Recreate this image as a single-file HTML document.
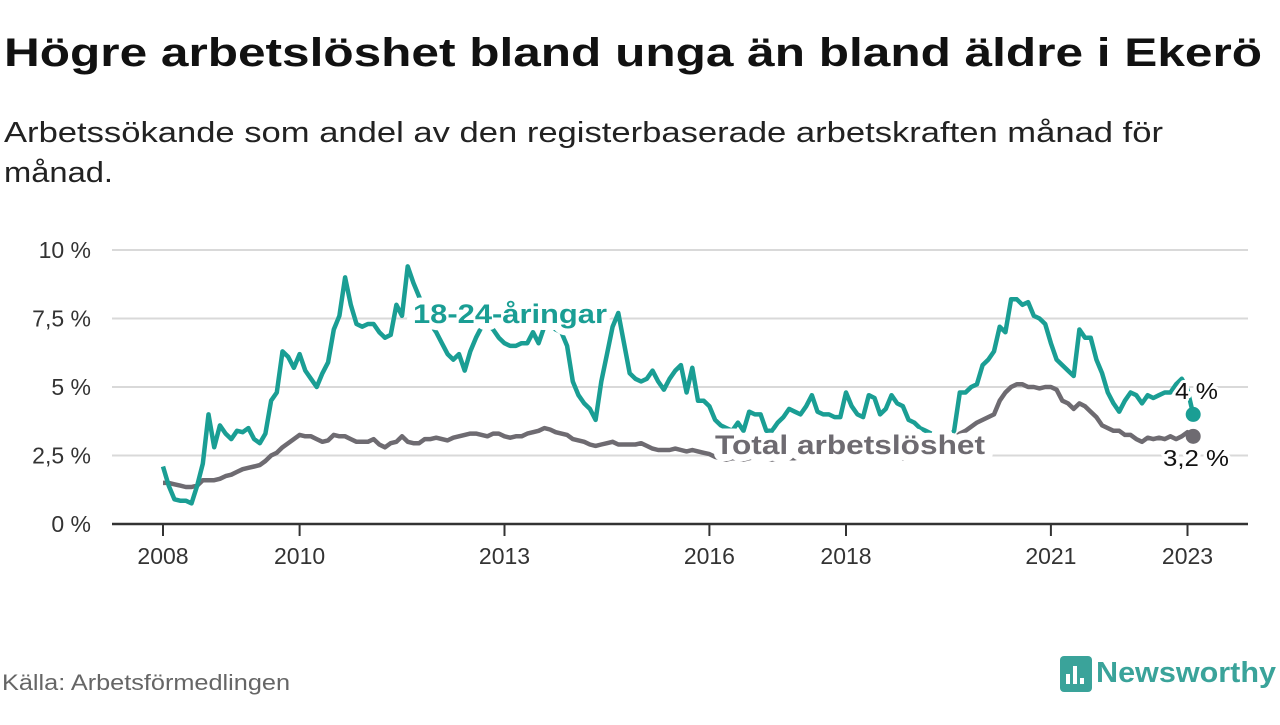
<!DOCTYPE html>
<html><head><meta charset="utf-8"><style>
body{margin:0;background:#fff;width:1280px;height:720px;overflow:hidden;font-family:"Liberation Sans",sans-serif;}
</style></head><body>
<svg width="1280" height="720" xmlns="http://www.w3.org/2000/svg">
<text x="4" y="66" font-size="40" font-weight="bold" fill="#111" textLength="1258" lengthAdjust="spacingAndGlyphs">Högre arbetslöshet bland unga än bland äldre i Ekerö</text>
<text x="4" y="142" font-size="29" fill="#222" textLength="1159" lengthAdjust="spacingAndGlyphs">Arbetssökande som andel av den registerbaserade arbetskraften månad för</text>
<text x="4" y="182" font-size="29" fill="#222" textLength="109" lengthAdjust="spacingAndGlyphs">månad.</text>
<g id="grid"></g><g id="axes"></g><g id="series"></g><g id="labels"></g>
<text x="2" y="690" font-size="22" fill="#666" textLength="288" lengthAdjust="spacingAndGlyphs">Källa: Arbetsförmedlingen</text>
<g>
<rect x="1060" y="656" width="32" height="36" rx="4" fill="#3aa39a"/>
<rect x="1066" y="674" width="4" height="10" fill="#fff"/><rect x="1073" y="666" width="4" height="18" fill="#fff"/><rect x="1080" y="678" width="4" height="6" fill="#fff"/>
<text x="1096" y="682" font-size="29" font-weight="bold" fill="#3aa39a" textLength="180" lengthAdjust="spacingAndGlyphs">Newsworthy</text>
</g>
</svg>
<script>
const yTicks=[0,2.5,5,7.5,10];
const yTickLabels=["0 %","2,5 %","5 %","7,5 %","10 %"];
const xTicks=[2008,2010,2013,2016,2018,2021,2023];
const startYear=2008;
const youth=[2.1,1.4,0.9,0.85,0.85,0.75,1.4,2.2,4.0,2.8,3.6,3.3,3.1,3.4,3.35,3.5,3.1,2.95,3.3,4.5,4.8,6.3,6.1,5.7,6.2,5.6,5.3,5.0,5.5,5.9,7.1,7.6,9.0,8.0,7.3,7.2,7.3,7.3,7.0,6.8,6.9,8.0,7.6,9.4,8.8,8.3,7.8,7.3,7.0,6.6,6.2,6.0,6.2,5.6,6.3,6.8,7.2,7.3,7.1,6.8,6.6,6.5,6.5,6.6,6.6,7.0,6.6,7.2,7.3,7.1,7.0,6.5,5.2,4.7,4.4,4.2,3.8,5.2,6.2,7.2,7.7,6.6,5.5,5.3,5.2,5.3,5.6,5.2,4.9,5.3,5.6,5.8,4.8,5.7,4.5,4.5,4.3,3.8,3.6,3.5,3.4,3.7,3.4,4.1,4.0,4.0,3.4,3.4,3.7,3.9,4.2,4.1,4.0,4.3,4.7,4.1,4.0,4.0,3.9,3.9,4.8,4.3,4.0,3.9,4.7,4.6,4.0,4.2,4.7,4.4,4.3,3.8,3.7,3.5,3.4,3.3,3.2,3.2,3.1,3.4,4.8,4.8,5.0,5.1,5.8,6.0,6.3,7.2,7.0,8.2,8.2,8.0,8.1,7.6,7.5,7.3,6.6,6.0,5.8,5.6,5.4,7.1,6.8,6.8,6.0,5.5,4.8,4.4,4.1,4.5,4.8,4.7,4.4,4.7,4.6,4.7,4.8,4.8,5.1,5.3,4.9,4.0];
const total=[1.5,1.5,1.45,1.4,1.35,1.35,1.4,1.6,1.6,1.6,1.65,1.75,1.8,1.9,2.0,2.05,2.1,2.15,2.3,2.5,2.6,2.8,2.95,3.1,3.25,3.2,3.2,3.1,3.0,3.05,3.25,3.2,3.2,3.1,3.0,3.0,3.0,3.1,2.9,2.8,2.95,3.0,3.2,3.0,2.95,2.95,3.1,3.1,3.15,3.1,3.05,3.15,3.2,3.25,3.3,3.3,3.25,3.2,3.3,3.3,3.2,3.15,3.2,3.2,3.3,3.35,3.4,3.5,3.45,3.35,3.3,3.25,3.1,3.05,3.0,2.9,2.85,2.9,2.95,3.0,2.9,2.9,2.9,2.9,2.95,2.85,2.75,2.7,2.7,2.7,2.75,2.7,2.65,2.7,2.65,2.6,2.55,2.45,2.4,2.35,2.4,2.4,2.35,2.4,2.45,2.4,2.4,2.35,2.4,2.45,2.4,2.4,2.45,2.45,2.5,2.45,2.45,2.4,2.4,2.45,2.5,2.45,2.45,2.5,2.5,2.45,2.45,2.5,2.45,2.45,2.4,2.4,2.5,2.5,2.55,2.6,2.7,2.8,2.9,3.1,3.3,3.4,3.55,3.7,3.8,3.9,4.0,4.5,4.8,5.0,5.1,5.1,5.0,5.0,4.95,5.0,5.0,4.9,4.5,4.4,4.2,4.4,4.3,4.1,3.9,3.6,3.5,3.4,3.4,3.25,3.25,3.1,3.0,3.15,3.1,3.15,3.1,3.2,3.1,3.2,3.35,3.2];
const NS="http://www.w3.org/2000/svg";
const xs=yr=>163+(yr-startYear)*68.3;
const xm=i=>xs(startYear+i/12);
const ys=v=>524-v*27.4;
function mk(tag,attrs,parent){const e=document.createElementNS(NS,tag);for(const k in attrs)e.setAttribute(k,attrs[k]);document.getElementById(parent).appendChild(e);return e;}
yTicks.forEach((t,i)=>{
 if(t>0){const g=mk('line',{x1:112,x2:1248,y1:ys(t),y2:ys(t),stroke:'#d9d9d9','stroke-width':2},'grid');
 
 }
 const l=mk('text',{x:91,y:ys(t)+8,'font-size':23,'text-anchor':'end',fill:'#333'},'grid');
 l.textContent=yTickLabels[i];
 
 
});
const ax=mk('line',{x1:112,x2:1248,y1:524,y2:524,stroke:'#333','stroke-width':2.5},'axes');


xTicks.forEach(y=>{
 const t=mk('line',{x1:xs(y),x2:xs(y),y1:524,y2:536,stroke:'#333','stroke-width':2},'axes');
 
 
 const l=mk('text',{x:xs(y),y:564,'font-size':23,'text-anchor':'middle',fill:'#333'},'axes');
 l.textContent=y;
 
 
});
function line(arr,col,name){
 const d=arr.map((v,i)=>(i?'L':'M')+xm(i).toFixed(1)+','+ys(v).toFixed(1)).join('');
 const p=mk('path',{d:d,fill:'none',stroke:col,'stroke-width':4.5,'stroke-linejoin':'round'},'series');
 
 
 const n=arr.length-1;
 const c=mk('circle',{cx:xm(n),cy:ys(arr[n]),r:7.5,fill:col},'series');
 
 
}
line(total,'#6e6b71','total-line');
line(youth,'#1a9e94','youth-line');
function lab(txt,x,y,size,col,bold,w,name){
 const t=mk('text',{x:x,y:y,'font-size':size,fill:col,'font-weight':bold?'bold':'normal',stroke:'#fff','stroke-width':bold?14:6,'paint-order':'stroke','stroke-linejoin':'round',textLength:w,lengthAdjust:'spacingAndGlyphs'},'labels');
 t.textContent=txt;
 
 
}
lab('18-24-åringar',413,323,27,'#1a9e94',true,194,'youth-series-label');
lab('Total arbetslöshet',715,454,27,'#6e6b71',true,270,'total-series-label');
lab('4 %',1175,399,23,'#111',false,43,'youth-end-value');
lab('3,2 %',1163,466,23,'#111',false,66,'total-end-value');
</script>
</body></html>
